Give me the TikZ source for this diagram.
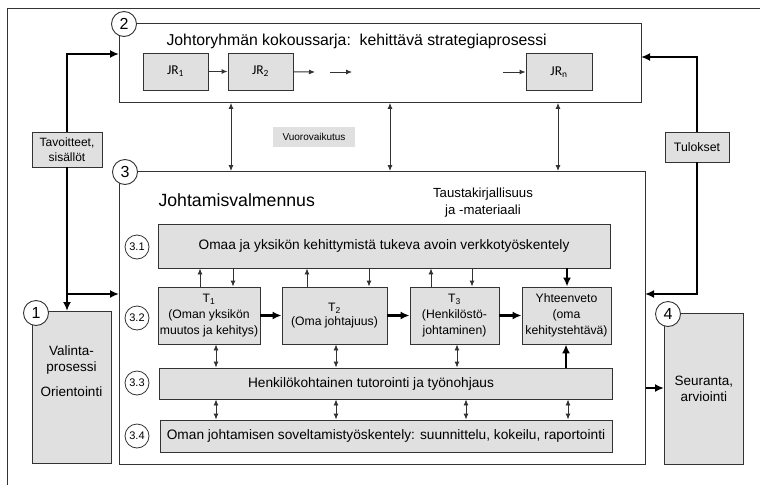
\documentclass[tikz,border=0pt]{standalone}
\usepackage{fontspec}
\setmainfont{Liberation Sans}
\newfontfamily\jrfont{Carlito}
\usetikzlibrary{arrows.meta}

\definecolor{boxgray}{gray}{0.88}
\definecolor{linegray}{gray}{0.2}

\tikzset{
  box/.style={draw=linegray, fill=boxgray, inner sep=0pt, align=center, line width=0.9pt},
  frame/.style={draw=linegray, fill=white, inner sep=0pt, line width=0.9pt},
  num/.style={circle, draw=linegray, fill=white, inner sep=0pt, minimum size=25pt, line width=0.9pt, font=\fontsize{16}{16}\selectfont},
  subnum/.style={circle, draw=linegray, fill=white, inner sep=0pt, minimum size=24pt, line width=0.8pt, font=\fontsize{11}{11}\selectfont},
  link/.style={->, line width=0.9pt, draw=linegray},
  twoway/.style={<->, line width=0.9pt, draw=linegray},
  biglink/.style={-{Latex[length=9pt,width=8pt]}, line width=2.4pt, draw=black},
  jrbox/.style={box, minimum height=37pt, font=\jrfont\fontsize{13.5}{15}\selectfont},
  tbox/.style={box, minimum height=57pt, font=\fontsize{12.2}{16}\selectfont},
  wide/.style={box, font=\fontsize{13.7}{16}\selectfont},
}

\begin{document}
\begin{tikzpicture}[x=1pt, y=-1pt, >={Latex[length=6pt,width=5pt]}]
\useasboundingbox (0,0) rectangle (760,485);
\draw[linegray, line width=0.9pt] (7,485) -- (7,8) -- (760,8);

% 2: johtoryhma
\node[frame, anchor=north west, minimum width=522pt, minimum height=79pt] (ryhma) at (119,23) {};
\node[anchor=base west, font=\fontsize{15.8}{18}\selectfont] (otsikko) at (163,45) {Johtoryhmän kokoussarja:\ \ kehittävä strategiaprosessi};
\node[jrbox, minimum width=65pt] (jr1) at (175.5,71.5) {JR\textsubscript{1}};
\node[jrbox, minimum width=65pt] (jr2) at (260.5,71.5) {JR\textsubscript{2}};
\node[jrbox, minimum width=66pt] (jrn) at (559,72) {JR\textsubscript{n}};
\coordinate (jra) at (315,72);
\coordinate (jrb) at (330,72);
\coordinate (jrc) at (352,72);
\coordinate (jrd) at (503,72);
\draw[link] (jr1) -- (jr2);
\draw[link] (jr2) -- (jra);
\draw[link] (jrb) -- (jrc);
\draw[link] (jrd) -- (jrn);
\node[num] (n2) at (124,24) {2};

% sivulaatikot
\node[box, minimum width=70pt, minimum height=35pt, font=\fontsize{12}{14.5}\selectfont] (tavoite) at (67,149.5) {Tavoitteet,\\sisällöt};
\node[box, minimum width=64pt, minimum height=30pt, font=\fontsize{12.3}{14}\selectfont] (tulos) at (697,147) {Tulokset};
\node[fill=boxgray, minimum width=82pt, minimum height=20pt, inner sep=0pt, font=\fontsize{10}{12}\selectfont] (vuoro) at (314,136.5) {Vuorovaikutus};

% 3: valmennus
\node[frame, anchor=north west, minimum width=526pt, minimum height=293pt] (valm) at (119,171) {};
\node[num] (n3) at (125,172) {3};
\node[anchor=base west, font=\fontsize{17.7}{20}\selectfont] (valmotsikko) at (155,206) {Johtamisvalmennus};
\node[align=center, font=\fontsize{13.2}{17}\selectfont] (tausta) at (483,203) {Taustakirjallisuus\\ja -materiaali};

\node[wide, minimum width=452pt, minimum height=44pt] (verkko) at (384,246) {Omaa ja yksikön kehittymistä tukeva avoin verkkotyöskentely};
\node[tbox, minimum width=102pt] (t1) at (209,315.5) {T\textsubscript{1}\\(Oman yksikön\\muutos ja kehitys)};
\node[tbox, minimum width=105pt, font=\fontsize{12.2}{14}\selectfont] (t2) at (334.5,315.5) {T\textsubscript{2}\\(Oma johtajuus)};
\node[tbox, minimum width=89pt] (t3) at (454.5,315.5) {T\textsubscript{3}\\(Henkilöstö-\\johtaminen)};
\node[tbox, minimum width=89pt] (yht) at (566.5,315.5) {Yhteenveto\\(oma\\kehitystehtävä)};
\node[wide, minimum width=453pt, minimum height=31pt] (tutor) at (385.5,383.5) {};
\node[font=\fontsize{13.7}{16}\selectfont, inner sep=0pt] (tutorteksti) at (371,383.5) {Henkilökohtainen tutorointi ja työnohjaus};
\node[wide, minimum width=452pt, minimum height=32pt] (sovel) at (386,436) {Oman johtamisen soveltamistyöskentely: suunnittelu, kokeilu, raportointi};

\node[subnum] (n31) at (137,247) {3.1};
\node[subnum] (n32) at (137,318) {3.2};
\node[subnum] (n33) at (137,383) {3.3};
\node[subnum] (n34) at (137,436) {3.4};

% 1 ja 4
\node[box, anchor=north west, minimum width=79pt, minimum height=152pt] (valinta) at (32,311) {};
\node[align=center, font=\fontsize{13.5}{16}\selectfont] (valintateksti) at (71.5,371) {Valinta-\\prosessi\\[9pt]Orientointi};
\node[num] (n1) at (36,313) {1};
\node[box, anchor=north west, minimum width=79pt, minimum height=151pt, font=\fontsize{13.5}{16}\selectfont] (seuranta) at (664,313) {Seuranta,\\arviointi};
\node[num] (n4) at (668,314) {4};

% paksut nuolet
\coordinate (sisaan2) at (119,54);
\coordinate (sisaan3) at (119,294);
\coordinate (ulos2) at (641,57);
\coordinate (ulos3) at (645,294);
\draw[biglink] (tavoite.north) |- (sisaan2);
\draw[biglink] (tavoite.south) -- (tavoite.south |- valinta.north);
\draw[biglink] (tavoite.south |- sisaan3) -- (sisaan3);
\draw[biglink] (tulos.north) |- (ulos2);
\draw[biglink] (tulos.south) |- (ulos3);
\draw[biglink] (valm.east |- 0,388) -- (seuranta.west |- 0,388);
\draw[biglink] (t1) -- (t2);
\draw[biglink] (t2) -- (t3);
\draw[biglink] (t3) -- (yht);
\draw[biglink] (verkko.south -| 567,0) -- (yht.north -| 567,0);
\draw[biglink] (tutor.north -| 566,0) -- (yht.south -| 566,0);

% vuorovaikutus
\foreach \x in {231,390,558}
  \draw[twoway] (ryhma.south -| \x,0) -- (valm.north -| \x,0);

% verkko <-> tehtavat
\draw[link] (t1.north -| 200,0) -- (verkko.south -| 200,0);
\draw[link] (verkko.south -| 233,0) -- (t1.north -| 233,0);
\draw[link] (t2.north -| 307,0) -- (verkko.south -| 307,0);
\draw[link] (verkko.south -| 369,0) -- (t2.north -| 369,0);
\draw[link] (t3.north -| 431,0) -- (verkko.south -| 431,0);
\draw[link] (verkko.south -| 472,0) -- (t3.north -| 472,0);

% tutorointi
\draw[twoway] (t1.south -| 216,0) -- (tutor.north -| 216,0);
\draw[twoway] (t2.south -| 336,0) -- (tutor.north -| 336,0);
\draw[twoway] (t3.south -| 457,0) -- (tutor.north -| 457,0);
\foreach \x in {216,336,466,568}
  \draw[twoway] (tutor.south -| \x,0) -- (sovel.north -| \x,0);

\end{tikzpicture}
\end{document}
